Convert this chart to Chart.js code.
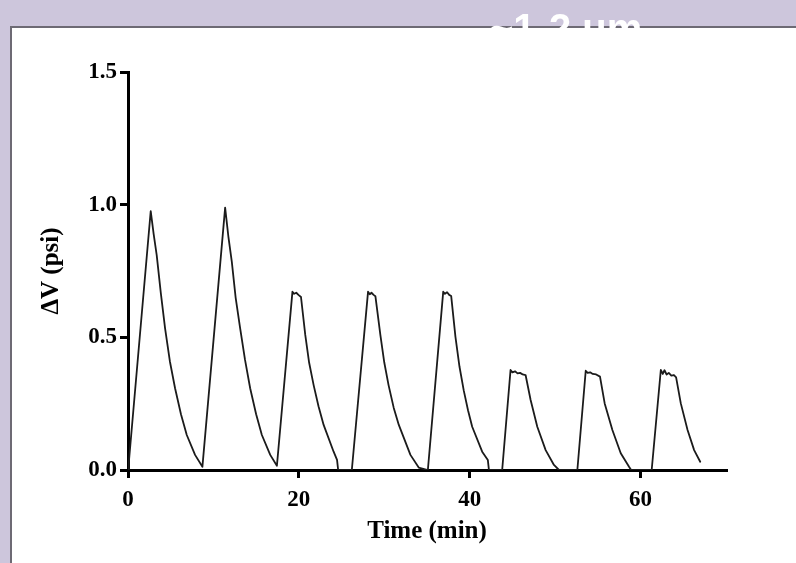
<!DOCTYPE html>
<html>
<head>
<meta charset="utf-8">
<script src="https://cdn.jsdelivr.net/npm/chart.js@4.4.1/dist/chart.umd.min.js"></script>
<style>
  html, body { margin: 0; padding: 0; }
  body { width: 796px; height: 563px; background: #cdc6dc; position: relative; overflow: hidden; }
  #panel {
    position: absolute; left: 10px; top: 26px; width: 800px; height: 560px;
    background: #fff; border-left: 2px solid #6d6a74; border-top: 2px solid #6d6a74;
  }
  #chart { position: absolute; left: 0; top: 0; }
  #tag {
    position: absolute; left: 490px; top: 8px; z-index: 3;
    font: bold 40px "Liberation Sans", Arial, sans-serif; line-height: 40px;
    color: #fff; white-space: nowrap;
  }
</style>
</head>
<body>
<div id="panel"></div>
<canvas id="chart" width="796" height="563"></canvas>
<div id="tag">~1-2 um</div>
<script>
// time (min) and pressure change (psi)
const TIME_MIN = [
  0.0, 0.1, 2.66, 3.0, 3.36, 3.85, 4.34, 4.9, 5.51, 6.2, 6.88, 7.85, 8.71,
  11.37, 11.75, 12.15, 12.6, 13.13, 13.7, 14.3, 15.0, 15.67, 16.65, 17.43,
  19.25, 19.45, 19.7, 19.95, 20.25, 20.75, 21.2, 21.73, 22.3, 22.9, 24.07, 24.47, 24.6, 26.2,
  28.1, 28.3, 28.5, 28.75, 28.96, 29.54, 30.0, 30.5, 31.1, 31.7, 33.06, 34.03, 35.1,
  36.9, 37.1, 37.35, 37.6, 37.83, 38.33, 38.8, 39.3, 39.8, 40.29, 41.46, 42.12, 42.25, 43.8,
  44.78, 45.0, 45.3, 45.6, 45.9, 46.2, 46.54, 47.13, 47.91, 48.89, 49.86, 50.45, 52.6,
  53.58, 53.8, 54.1, 54.4, 54.8, 55.25, 55.8, 56.7, 57.68, 58.65, 58.9, 61.3,
  62.37, 62.6, 62.8, 63.05, 63.3, 63.6, 63.9, 64.16, 64.71, 65.5, 66.27, 66.98
];
const DELTA_V = [
  0.0, 0.03, 0.976, 0.89, 0.81, 0.665, 0.534, 0.41, 0.308, 0.21, 0.132, 0.057, 0.012,
  0.989, 0.88, 0.785, 0.65, 0.534, 0.415, 0.308, 0.21, 0.132, 0.057, 0.016,
  0.672, 0.664, 0.668, 0.66, 0.652, 0.509, 0.405, 0.32, 0.24, 0.17, 0.069, 0.038, 0.0, 0.0,
  0.672, 0.662, 0.668, 0.66, 0.655, 0.509, 0.405, 0.32, 0.235, 0.17, 0.057, 0.009, 0.0,
  0.672, 0.664, 0.67, 0.66, 0.656, 0.502, 0.39, 0.30, 0.225, 0.163, 0.069, 0.038, 0.0, 0.0,
  0.377, 0.368, 0.372, 0.364, 0.366, 0.36, 0.358, 0.264, 0.163, 0.075, 0.019, 0.0, 0.0,
  0.374, 0.366, 0.368, 0.362, 0.36, 0.352, 0.251, 0.151, 0.063, 0.012, 0.0, 0.0,
  0.377, 0.362, 0.376, 0.36, 0.366, 0.356, 0.358, 0.349, 0.251, 0.151, 0.075, 0.031
];
const X_TICKS = [0, 20, 40, 60];
const Y_TICKS = [0, 0.5, 1.0, 1.5];

const serif = '"Liberation Serif", "Times New Roman", serif';

new Chart(document.getElementById('chart'), {
  type: 'line',
  data: {
    datasets: [{
      data: TIME_MIN.map((t, i) => ({ x: t, y: DELTA_V[i] })),
      borderColor: '#1b1b1b',
      borderWidth: 1.8,
      borderJoinStyle: 'round',
      borderCapStyle: 'round',
      pointRadius: 0,
      tension: 0,
      fill: false,
    }],
  },
  options: {
    responsive: false,
    animation: false,
    devicePixelRatio: 1,
    layout: { padding: { left: 20, top: 72, right: 70, bottom: 13 } },
    plugins: { legend: { display: false }, tooltip: { enabled: false } },
    scales: {
      x: {
        type: 'linear',
        min: 0,
        max: 70,
        afterFit: (scale) => { scale.height = 80; },
        afterBuildTicks: (scale) => { scale.ticks = X_TICKS.map((v) => ({ value: v })); },
        border: { display: true, color: '#000', width: 3 },
        grid: { display: true, drawOnChartArea: false, drawTicks: true, tickLength: 8, color: '#000', lineWidth: 3 },
        ticks: { color: '#000', padding: 8, font: { family: serif, size: 23, weight: 'bold' } },
        title: {
          display: true, text: 'Time (min)', color: '#000',
          padding: { top: 0, bottom: 3 },
          font: { family: serif, size: 25, weight: 'bold' },
        },
      },
      y: {
        min: 0,
        max: 1.5,
        afterFit: (scale) => { scale.width = 108; },
        afterBuildTicks: (scale) => { scale.ticks = Y_TICKS.map((v) => ({ value: v })); },
        border: { display: true, color: '#000', width: 3 },
        grid: { display: true, drawOnChartArea: false, drawTicks: true, tickLength: 8, color: '#000', lineWidth: 3 },
        ticks: {
          color: '#000', padding: 3,
          font: { family: serif, size: 23, weight: 'bold' },
          callback: (v) => Number(v).toFixed(1),
        },
        title: {
          display: true, text: 'ΔV (psi)', color: '#000',
          padding: { top: 17, bottom: 0 },
          font: { family: serif, size: 25, weight: 'bold' },
        },
      },
    },
  },
});
</script>
</body>
</html>
